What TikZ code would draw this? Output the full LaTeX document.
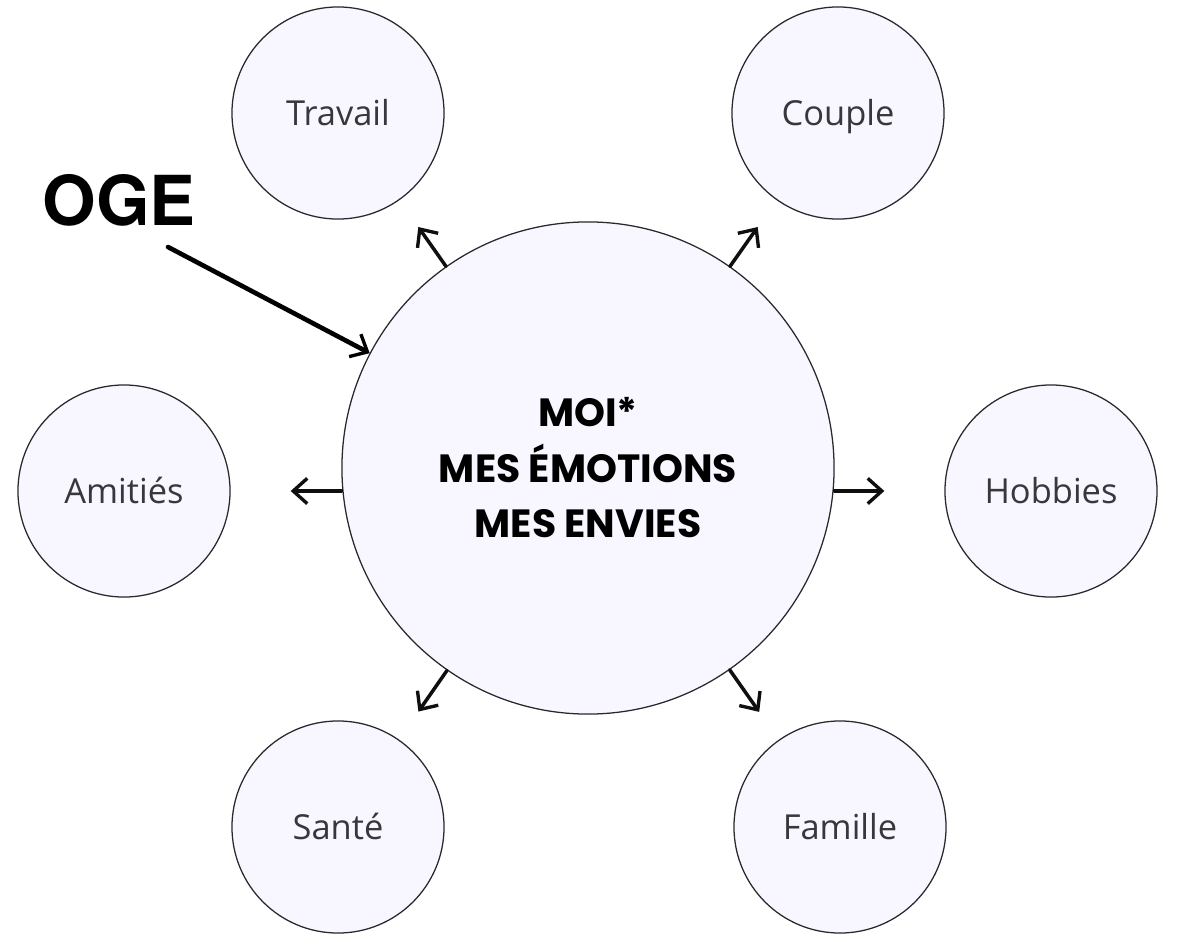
\documentclass[tikz,border=0pt]{standalone}
\usepackage{fontspec}
\setmainfont{Open Sans}
\newfontfamily\moiFont{Poppins}
\newfontfamily\ogeFont{TeX Gyre Heros}
\usetikzlibrary{arrows.meta, calc}
\definecolor{bulleFill}{RGB}{248,247,255}
\definecolor{bulleDraw}{RGB}{40,40,45}
\definecolor{labelColor}{RGB}{55,55,60}
\definecolor{arrowBlack}{RGB}{15,15,15}
\def\colL{124}
\def\colCL{338}
\def\colM{588}
\def\colCR{838}
\def\colR{1051}
\def\rowTop{113}
\def\rowMid{491}
\def\rowBot{827}

\begin{document}
\begin{tikzpicture}[x=0.025cm, y=-0.025cm,
    >={Straight Barb[length=10pt, width=18pt, line width=2.4pt]},
    bulle/.style    ={circle, draw=bulleDraw, line width=0.9pt, fill=bulleFill,
                      minimum size=5.3cm, inner sep=0pt,
                      text height=17.5pt, text depth=0pt,
                      font=\fontsize{24.5}{28}\selectfont, text=labelColor},
    bigBulle/.style ={circle, draw=bulleDraw, line width=0.9pt, fill=bulleFill,
                      minimum size=12.3cm, inner sep=0pt, align=center,
                      font=\moiFont\bfseries\fontsize{28}{39.5}\selectfont},
    arrow/.style    ={->, line width=2.5pt, arrowBlack, line cap=round},
    ogeArrow/.style ={->, line width=3.3pt, black, line cap=round},
]
\useasboundingbox (0,0) rectangle (1177,940);

% =====================================================
% CENTRE
% =====================================================
\node[bigBulle] (moi) at (\colM,468) {MOI*\\MES ÉMOTIONS\\MES ENVIES};

% =====================================================
% SATELLITES
% =====================================================
\node[bulle] (travail) at (\colCL,\rowTop) {Travail};
\node[bulle] (couple)  at (\colCR,\rowTop) {Couple};
\node[bulle] (amities) at (\colL,\rowMid)  {Amitiés};
\node[bulle] (hobbies) at (\colR,\rowMid)  {Hobbies};
\node[bulle] (sante)   at (\colCL,\rowBot) {Santé};
\node[bulle] (famille) at (\colCR+2,\rowBot) {Famille};

% =====================================================
% Arrows out of the centre
% =====================================================
\draw[arrow, shorten >=0.82cm] (moi) -- (travail);
\draw[arrow, shorten >=0.82cm] (moi) -- (couple);
\draw[arrow, shorten >=0.85cm] (moi) -- (sante);
\draw[arrow, shorten >=0.85cm] (moi) -- (famille);
\draw[arrow, shorten >=1.5cm] (moi.west |- amities) -- (amities.east);
\draw[arrow, shorten >=1.5cm] (moi.east |- hobbies) -- (hobbies.west);

% =====================================================
% OGE label
% =====================================================
\node[font=\ogeFont\bfseries\fontsize{49}{49}\selectfont] (oge) at (119,200) {OGE};
\coordinate (ogeStart) at (168,247);
\draw[ogeArrow] (ogeStart) -- (moi);

\end{tikzpicture}
\end{document}
